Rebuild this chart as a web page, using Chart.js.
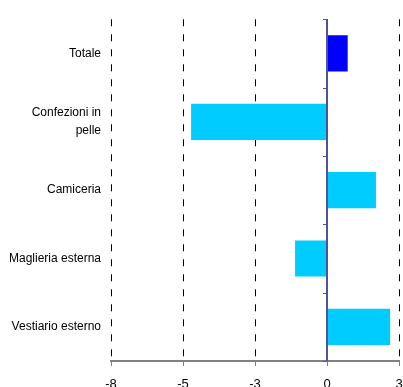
<!DOCTYPE html>
<html lang="it">
<head>
    <meta charset="UTF-8">
    <title>Variazioni</title>
    <script src="https://cdn.jsdelivr.net/npm/chart.js"></script>
    <style>
        html, body { margin: 0; padding: 0; background: #ffffff; }
        #wrap { width: 403px; height: 387px; }
    </style>
</head>
<body>
    <div id="wrap"><canvas id="chart" width="403" height="387"></canvas></div>

    <script>
        const categories = ['Totale', ['Confezioni in', 'pelle'], 'Camiceria', 'Maglieria esterna', 'Vestiario esterno'];
        const values = [0.79, -5.19, 1.87, -1.22, 2.41];
        const barColors = ['#0000ff', '#00ccff', '#00ccff', '#00ccff', '#00ccff'];
        const axisMin = -8.25;
        const axisMax = 2.75;
        const axisStep = 2.75;

        // zero line and category ticks drawn on the value axis at 0
        const zeroAxis = {
            id: 'zeroAxis',
            afterDatasetsDraw(chart) {
                const ctx = chart.ctx;
                const xs = chart.scales.x;
                const ys = chart.scales.y;
                const x0 = Math.round(xs.getPixelForValue(0));
                ctx.save();
                ctx.strokeStyle = '#50509c';
                ctx.lineWidth = 2;
                ctx.beginPath();
                ctx.moveTo(x0, ys.top);
                ctx.lineTo(x0, ys.bottom);
                ctx.stroke();
                ctx.lineWidth = 1;
                for (let i = 0; i <= categories.length; i++) {
                    const y = Math.round(ys.getPixelForValue(i - 0.5)) + 0.5;
                    ctx.beginPath();
                    ctx.moveTo(x0 - 4, y);
                    ctx.lineTo(x0, y);
                    ctx.stroke();
                }
                ctx.restore();
            }
        };

        new Chart(document.getElementById('chart'), {
            type: 'bar',
            data: {
                labels: categories,
                datasets: [{
                    data: values,
                    backgroundColor: barColors,
                    borderWidth: 0,
                    barPercentage: 0.53,
                    categoryPercentage: 1
                }]
            },
            options: {
                indexAxis: 'y',
                responsive: false,
                animation: false,
                layout: { padding: { top: 15, right: 0, left: 0, bottom: 0 } },
                plugins: { legend: { display: false }, tooltip: { enabled: false } },
                scales: {
                    x: {
                        min: axisMin,
                        max: axisMax,
                        afterBuildTicks(scale) {
                            const t = [];
                            for (let v = axisMin; v <= axisMax + 0.001; v += axisStep) t.push({ value: v });
                            scale.ticks = t;
                        },
                        afterFit(scale) {
                            scale.height = 26;
                            scale.paddingLeft = 0;
                            scale.paddingRight = 4;
                        },
                        grid: {
                            color: '#000000',
                            lineWidth: 1,
                            drawTicks: true,
                            tickLength: 5,
                            tickColor: '#808080',
                            tickBorderDash: [0, 0]
                        },
                        border: { display: true, color: '#808080', width: 2, dash: [7, 8] },
                        ticks: {
                            color: '#000000',
                            padding: 11,
                            maxRotation: 0,
                            font: { family: 'Liberation Sans, Arial, sans-serif', size: 13 },
                            callback: (v) => Math.round(v)
                        }
                    },
                    y: {
                        afterFit(scale) { scale.width = 111; },
                        grid: { display: false, drawTicks: false, tickLength: 0 },
                        border: { display: false },
                        ticks: {
                            color: '#000000',
                            padding: 10,
                            font: { family: 'Liberation Sans, Arial, sans-serif', size: 12, lineHeight: 1.55 }
                        }
                    }
                }
            },
            plugins: [zeroAxis]
        });
    </script>
</body>
</html>
